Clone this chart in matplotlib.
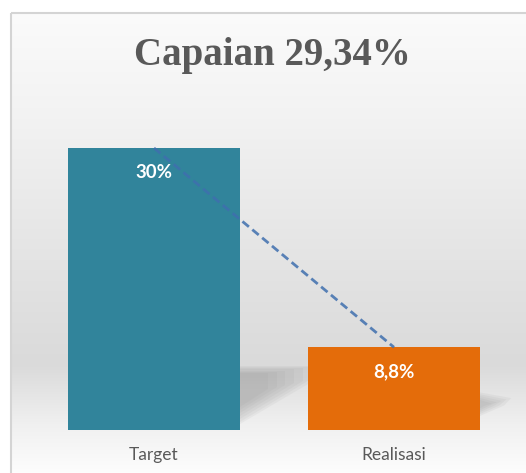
import numpy as np
import matplotlib
matplotlib.use("Agg")
import matplotlib.pyplot as plt
from matplotlib.patches import Rectangle, Polygon

# data
categories = ["Target", "Realisasi"]
values = [30, 8.8]
value_labels = ["30%", "8,8%"]
title = "Capaian 29,34%"

bar_colors = ["#31849b", "#e46c0a"]
text_grey = "#595959"

W, H = 526, 473
fig = plt.figure(figsize=(W / 100, H / 100), dpi=100)
fig.patch.set_facecolor("white")

# background panel with vertical gradient (pixel coords)
bg = fig.add_axes([0, 0, 1, 1], zorder=0)
bg.set_xlim(0, W)
bg.set_ylim(H, 0)
bg.axis("off")
stops_y = [13, 120, 250, 365, 425, 473]
stops_c = [251, 242, 229, 218, 240, 253]
ys = np.arange(13, H + 1)
grad = np.interp(ys, stops_y, stops_c) / 255.0
img = np.dstack([grad, grad, grad]).reshape(len(ys), 1, 3)
bg.imshow(img, extent=[11, W + 2, H, 13], aspect="auto", interpolation="bilinear")
bg.add_patch(Rectangle((11, 13), W, H, fill=False, edgecolor="#d4d4d4", lw=1.5))

# main axes: baseline at y=430px, 240px between bar centres
px_x = 240.0
px_y = 9.4
ax = fig.add_axes([0, (H - 430) / H, 1, 330 / H], zorder=1)
ax.patch.set_alpha(0)
ax.set_xlim(-154 / px_x, (W - 154) / px_x)
ax.set_ylim(0, 330 / px_y)
for s in ax.spines.values():
    s.set_visible(False)
ax.set_yticks([])

x = np.arange(len(categories))
width = 172 / px_x

# soft floor shadow behind the first bar
xr = x[0] + width / 2
xl2 = x[1] - width / 2
for k in range(7):
    d = k * 0.012
    ax.add_patch(Polygon([(xr, 0.6 + k * 0.3), (xr, 6.8 - k * 0.12),
                          (xl2 + 0.05 - d * 3, 6.8 - k * 0.12), (xl2 + 0.05 - d * 3, 5.6 - k * 0.2)],
                         closed=True, facecolor="#8a8a8a", edgecolor="none", alpha=0.08, zorder=1))
# small shadow to the right of the second bar
xr2 = x[1] + width / 2
for k in range(5):
    ax.add_patch(Polygon([(xr2, 1.5 + k * 0.2), (xr2, 4.0 - k * 0.2),
                          (xr2 + 0.13 - k * 0.02, 3.4 - k * 0.15), (xr2 + 0.1 - k * 0.02, 2.6)],
                         closed=True, facecolor="#8a8a8a", edgecolor="none", alpha=0.09, zorder=1))

bars = ax.bar(x, values, width=width, color=bar_colors, zorder=2)

ax.plot(x, values, linestyle=(0, (3, 1.6)), color="#3f6fae", lw=2.0, alpha=0.85, zorder=3)

for xi, v, lab in zip(x, values, value_labels):
    ax.annotate(lab, (xi, v), xytext=(0, -24), textcoords="offset pixels",
                ha="center", va="center", color="white", fontsize=13.5,
                fontweight="bold", family="Lato", zorder=4)

ax.set_xticks(x)
ax.set_xticklabels(categories, family="Lato", fontsize=12.5, color=text_grey)
ax.tick_params(axis="x", length=0, pad=12)

fig.text(272 / W, 1 - 55 / H, title, ha="center", va="center",
         family="Liberation Serif", fontweight="bold", fontsize=28, color=text_grey)

fig.savefig("out.png", dpi=100)
